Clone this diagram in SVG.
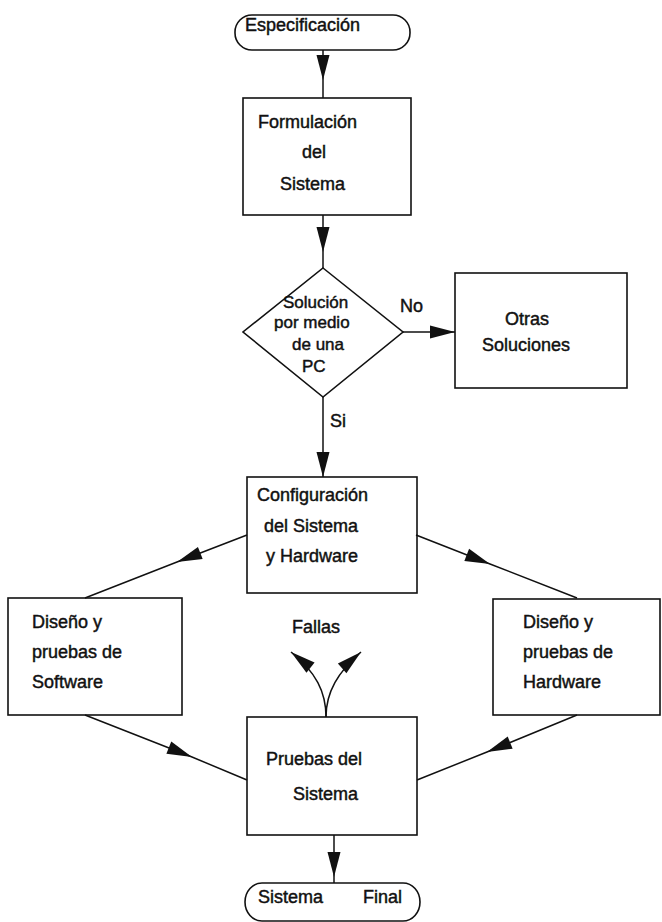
<svg xmlns="http://www.w3.org/2000/svg" width="662" height="922" viewBox="0 0 662 922">
<style>
.box{fill:none;stroke:#111;stroke-width:1.6}
.ln{fill:none;stroke:#111;stroke-width:1.5}
text{font-family:"Liberation Sans",Arial,sans-serif;font-size:18px;fill:#111;stroke:#111;stroke-width:0.45}
.d{font-size:17px}
</style>
<defs>
<marker id="ah" markerUnits="userSpaceOnUse" markerWidth="27" markerHeight="14" refX="25" refY="6.5" orient="auto" overflow="visible">
<path d="M0,0 L25,6.5 L0,13 Z" fill="#111"/>
</marker>
</defs>
<rect width="662" height="922" fill="#fff"/>
<g id="connectors">
<path class="ln" d="M323,50 L323,80 L323,98" marker-mid="url(#ah)"/>
<path class="ln" d="M323,215 L323,252 L323,268" marker-mid="url(#ah)"/>
<path class="ln" d="M323,397 L323,477" marker-end="url(#ah)"/>
<path class="ln" d="M403,332 L455,332" marker-end="url(#ah)"/>
<path class="ln" d="M247,535 L177,562 L85,598" marker-mid="url(#ah)"/>
<path class="ln" d="M416,535 L490,564 L577,598" marker-mid="url(#ah)"/>
<path class="ln" d="M85,715 L192,757 L247,780" marker-mid="url(#ah)"/>
<path class="ln" d="M577,715 L487,752 L417,780" marker-mid="url(#ah)"/>
<path class="ln" d="M334,835 L334,877 L334,883" marker-mid="url(#ah)"/>
<path class="ln" d="M326,717 C326,692 316,672 291,652" marker-end="url(#ah)"/>
<path class="ln" d="M326,717 C326,692 338,672 361,652" marker-end="url(#ah)"/>
<text x="400" y="312">No</text>
<text x="330" y="427">Si</text>
<text x="292" y="633">Fallas</text>
</g>
<g id="especificacion">
<rect class="box" x="235" y="15" width="175" height="35" rx="17" ry="17"/>
<text x="245" y="31">Especificación</text>
</g>
<g id="formulacion">
<rect class="box" x="243" y="98" width="168" height="117"/>
<text x="258" y="128">Formulación</text>
<text x="302" y="158">del</text>
<text x="280" y="190">Sistema</text>
</g>
<g id="decision">
<polygon class="box" points="323,268 403,332 323,397 243,332"/>
<text class="d" x="283" y="308">Solución</text>
<text class="d" x="274" y="328">por medio</text>
<text class="d" x="292" y="350">de una</text>
<text class="d" x="302" y="372">PC</text>
</g>
<g id="otras">
<rect class="box" x="455" y="273" width="172" height="115"/>
<text x="505" y="325">Otras</text>
<text x="482" y="351">Soluciones</text>
</g>
<g id="configuracion">
<rect class="box" x="247" y="477" width="170" height="116"/>
<text x="257" y="501">Configuración</text>
<text x="264" y="532">del Sistema</text>
<text x="266" y="562">y Hardware</text>
</g>
<g id="software">
<rect class="box" x="8" y="598" width="174" height="117"/>
<text x="32" y="628">Diseño y</text>
<text x="32" y="658">pruebas de</text>
<text x="32" y="688">Software</text>
</g>
<g id="hardware">
<rect class="box" x="493" y="599" width="167" height="116"/>
<text x="523" y="628">Diseño y</text>
<text x="523" y="658">pruebas de</text>
<text x="523" y="688">Hardware</text>
</g>
<g id="pruebas">
<rect class="box" x="247" y="717" width="170" height="118"/>
<text x="266" y="765">Pruebas del</text>
<text x="293" y="800">Sistema</text>
</g>
<g id="final">
<rect class="box" x="245" y="883" width="175" height="38" rx="17" ry="19"/>
<text x="258" y="903">Sistema</text>
<text x="363" y="903">Final</text>
</g>
</svg>
